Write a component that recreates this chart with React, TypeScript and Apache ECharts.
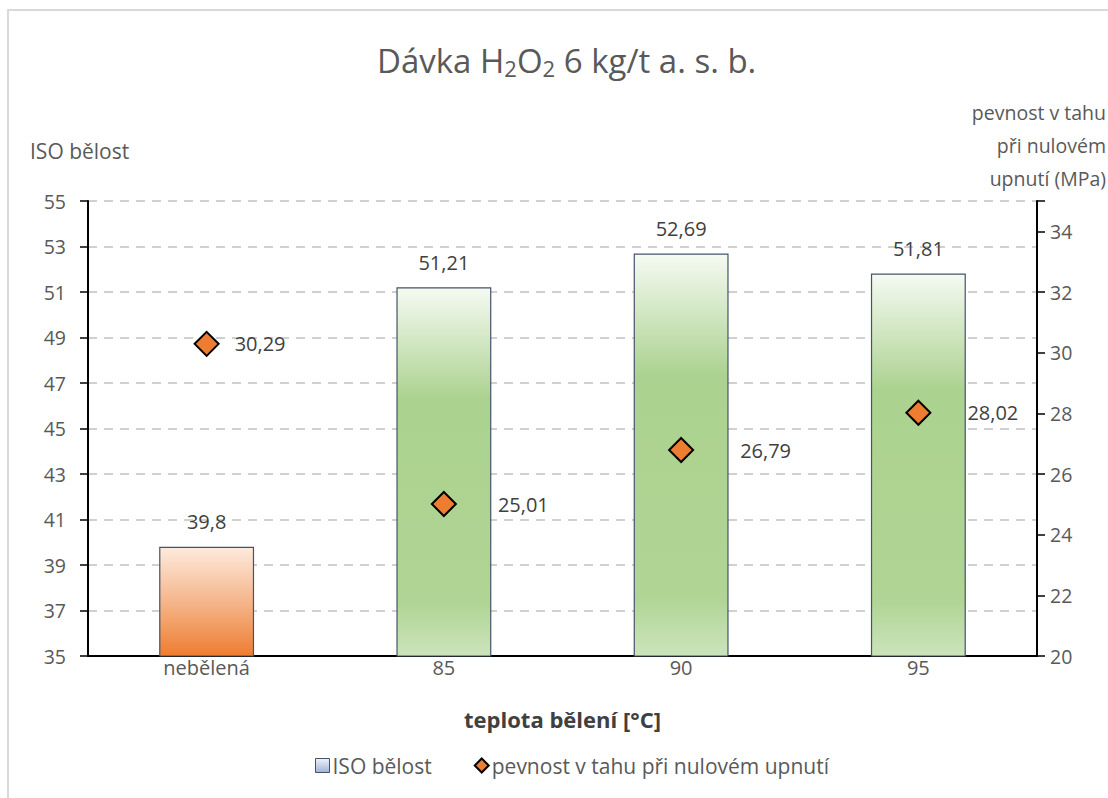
import React, { useEffect, useRef } from "react";
import * as echarts from "echarts";

const categories = ["nebělená", "85", "90", "95"];
const isoBelost = [39.8, 51.21, 52.69, 51.81];
const pevnost = [30.29, 25.01, 26.79, 28.02];
const leftTicks = { min: 35, max: 55, interval: 2 };
const rightTicks = { min: 20, max: 35, interval: 2 };

const FONT = "'Open Sans', 'Noto Sans', sans-serif";
const fmt = (v: number) => String(v).replace(".", ",");

export default function App() {
  const ref = useRef<HTMLDivElement>(null);
  useEffect(() => {
    document.body.style.margin = "0";
    const chart = echarts.init(ref.current!, null, { renderer: "svg" });
    const green = new echarts.graphic.LinearGradient(0, 0, 0, 1, [
      { offset: 0, color: "#f5faf2" },
      { offset: 0.3, color: "#acd290" },
      { offset: 0.85, color: "#afd493" },
      { offset: 1, color: "#cbe4bb" },
    ]);
    const orange = new echarts.graphic.LinearGradient(0, 0, 0, 1, [
      { offset: 0, color: "#fdeadd" },
      { offset: 0.5, color: "#f5b68b" },
      { offset: 1, color: "#ed7d31" },
    ]);
    const legendBlue = new echarts.graphic.LinearGradient(0, 0, 0, 1, [
      { offset: 0, color: "#eef2fa" },
      { offset: 1, color: "#9fb3d8" },
    ]);
    const labelDist = [15, 41, 46, 36];
    chart.setOption({
      animation: false,
      textStyle: { fontFamily: FONT },
      title: {
        text: "Dávka H{s|2}O{s|2} 6 kg/t a. s. b.",
        left: 372,
        top: 36,
        textStyle: {
          fontFamily: FONT,
          fontSize: 33,
          fontWeight: "normal",
          color: "#595959",
          rich: {
            s: { fontFamily: FONT, fontSize: 22, color: "#595959", verticalAlign: "bottom", padding: [16, 0, 0, 0] },
          },
        },
      },
      graphic: [
        { type: "rect", shape: { x: 8, y: 10, width: 1300, height: 1000 }, style: { fill: "none", stroke: "#d9d9d9", lineWidth: 2 }, silent: true },
        { type: "text", x: 30, y: 140, style: { text: "ISO bělost", font: `21px ${FONT}`, fill: "#595959" } },
        { type: "text", x: 1106, y: 96, style: { text: "pevnost v tahu\npři nulovém\nupnutí (MPa)", font: `19.5px ${FONT}`, fill: "#595959", align: "right", textAlign: "right", lineHeight: 33 } },
      ],
      legend: {
        bottom: 17,
        left: 310,
        itemGap: 42,
        itemWidth: 14,
        itemHeight: 14,
        textStyle: { fontFamily: FONT, fontSize: 21, color: "#595959", padding: [0, 0, 0, -2] },
        data: [
          { name: "ISO bělost", icon: "rect", itemStyle: { color: legendBlue, borderColor: "#44546a", borderWidth: 1 } },
          { name: "pevnost v tahu při nulovém upnutí", icon: "diamond", itemStyle: { color: "#ed7d31", borderColor: "#000", borderWidth: 2 } },
        ],
      },
      grid: { left: 88, right: 71, top: 201, bottom: 142 },
      xAxis: {
        type: "category",
        data: categories,
        name: "teplota bělení [°C]",
        nameLocation: "middle",
        nameGap: 52,
        nameTextStyle: { fontFamily: FONT, fontSize: 22, fontWeight: "bold", color: "#404040" },
        axisLine: { lineStyle: { color: "#000", width: 2 } },
        axisTick: { show: false },
        axisLabel: { fontFamily: FONT, fontSize: 20, color: "#595959", margin: 1 },
      },
      yAxis: [
        {
          type: "value",
          min: leftTicks.min,
          max: leftTicks.max,
          interval: leftTicks.interval,
          axisLine: { show: true, lineStyle: { color: "#000", width: 2 } },
          axisTick: { show: true, length: 8, lineStyle: { color: "#000", width: 1.5 } },
          axisLabel: { fontFamily: FONT, fontSize: 19.5, color: "#595959", margin: 22 },
          splitLine: { show: true, lineStyle: { color: "#d0d0d0", width: 2, type: [9, 7] } },
        },
        {
          type: "value",
          position: "right",
          min: rightTicks.min,
          max: rightTicks.max,
          interval: rightTicks.interval,
          axisLine: { show: true, lineStyle: { color: "#000", width: 2 } },
          axisTick: { show: true, length: 8, lineStyle: { color: "#000", width: 1.5 } },
          axisLabel: {
            fontFamily: FONT, fontSize: 19.5, color: "#595959", margin: 13,
            formatter: (v: number) => (v === rightTicks.max ? "" : String(v)),
          },
          splitLine: { show: false },
        },
      ],
      series: [
        {
          name: "ISO bělost",
          type: "bar",
          barWidth: "40%",
          yAxisIndex: 0,
          itemStyle: { color: legendBlue, borderColor: "#44546a", borderWidth: 1 },
          data: isoBelost.map((v, i) => ({
            value: v,
            itemStyle: { color: i === 0 ? orange : green, borderColor: "#44546a", borderWidth: 1.2 },
          })),
          label: {
            show: true,
            position: "top",
            distance: 15,
            fontFamily: FONT,
            fontSize: 20,
            color: "#404040",
            formatter: (p: any) => fmt(p.value),
          },
          z: 2,
        },
        {
          name: "pevnost v tahu při nulovém upnutí",
          type: "scatter",
          yAxisIndex: 1,
          symbol: "diamond",
          symbolSize: [24, 24],
          itemStyle: { color: "#ed7d31", borderColor: "#000", borderWidth: 2, opacity: 1 },
          data: pevnost.map((v, i) => ({ value: v, label: { distance: labelDist[i] } })),
          label: {
            show: true,
            position: "right",
            fontFamily: FONT,
            fontSize: 20,
            color: "#404040",
            formatter: (p: any) => fmt(p.value),
          },
          z: 3,
        },
      ],
    });
    return () => chart.dispose();
  }, []);
  return <div ref={ref} style={{ width: 1108, height: 798 }} />;
}
